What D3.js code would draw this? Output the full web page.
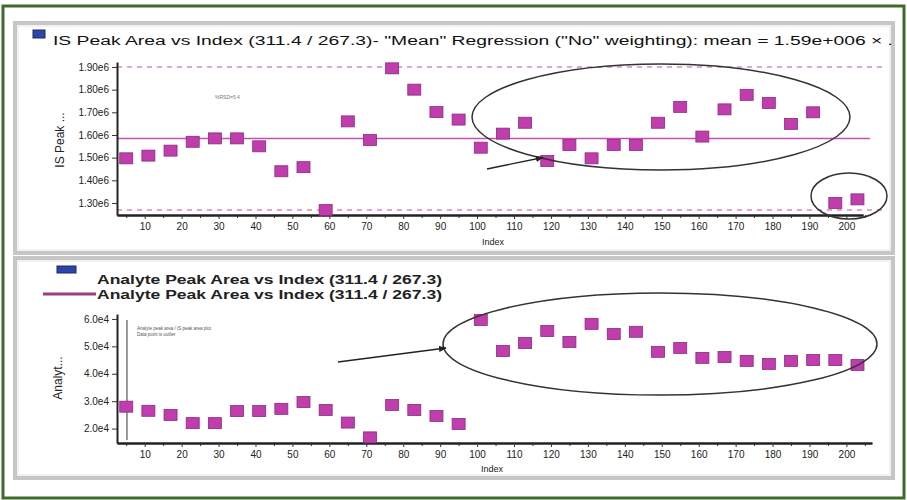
<!DOCTYPE html>
<html>
<head>
<meta charset="utf-8">
<script src="https://cdn.jsdelivr.net/npm/d3@7/dist/d3.min.js"></script>
<style>
  html, body { margin: 0; padding: 0; background: #fff; }
  svg { display: block; font-family: "Liberation Sans", Arial, sans-serif; }
</style>
</head>
<body>
<svg id="chart" width="907" height="500"></svg>
<script>
// ---- data ----
const injectionIndex = [5,11,17,23,29,35,41,47,53,59,65,71,77,83,89,95,101,107,113,119,125,131,137,143,149,155,161,167,173,179,185,191,197,203];
const isPeakArea = [1497000,1509000,1531000,1570000,1585000,1585000,1550000,1440000,1458000,1269000,1660000,1578000,1894000,1800000,1701000,1668000,1544000,1606000,1654000,1485000,1556000,1497000,1556000,1556000,1654000,1724000,1593000,1713000,1777000,1741000,1649000,1700000,1300000,1316000];
const analytePeakArea = [28000,26500,25000,22000,22000,26400,26400,27200,29700,26800,22200,16800,28600,26800,24600,21700,59600,48300,51200,55600,51600,58200,54500,55300,48000,49400,45800,46100,44700,43600,44700,45000,45000,43200];
const isMean = 1585000;
const isUpperLimit = 1900000;
const isLowerLimit = 1269000;
const xTickValues = [10,20,30,40,50,60,70,80,90,100,110,120,130,140,150,160,170,180,190,200];
const topYTicks = [1300000,1400000,1500000,1600000,1700000,1800000,1900000];
const bottomYTicks = [20000,30000,40000,50000,60000];
const topTitle = 'IS Peak Area vs Index (311.4 / 267.3)- "Mean" Regression ("No" weighting): mean = 1.59e+006 × .';
const legendText = 'Analyte Peak Area vs Index (311.4 / 267.3)';

const svg = d3.select('#chart');
const markerFill = '#c03dae', markerStroke = '#8c2a7f';

// outer green frame
svg.append('rect').attr('x', 3).attr('y', 6).attr('width', 901).attr('height', 492)
  .attr('fill', '#fff').attr('stroke', '#3f6a2a').attr('stroke-width', 3);

// panels
function panel(x, y, w, h) {
  svg.append('rect').attr('x', x).attr('y', y).attr('width', w).attr('height', h)
    .attr('fill', '#fff').attr('stroke', '#c6c6c6').attr('stroke-width', 4);
  svg.append('rect').attr('x', x + 3).attr('y', y + 3).attr('width', w - 6).attr('height', h - 6)
    .attr('fill', 'none').attr('stroke', '#e4e4e4').attr('stroke-width', 1);
}
panel(15, 23, 878, 230);
panel(15, 258, 878, 220);

// ---- top chart ----
const xTop = d3.scaleLinear().domain([2.5, 204.5]).range([117, 863]);
const yTop = d3.scaleLinear().domain([1247000, 1922000]).range([215, 62]);

svg.append('rect').attr('x', 33).attr('y', 30).attr('width', 12).attr('height', 8)
  .attr('fill', '#2b45a8').attr('stroke', '#1a2a6a').attr('stroke-width', 1);
svg.append('text').attr('x', 53).attr('y', 45).attr('font-size', 12).attr('fill', '#111')
  .attr('textLength', 840).attr('lengthAdjust', 'spacingAndGlyphs').text(topTitle);

// reference lines
const gTop = svg.append('g');
gTop.append('line').attr('x1', 117).attr('x2', 882).attr('y1', yTop(isUpperLimit)).attr('y2', yTop(isUpperLimit))
  .attr('stroke', '#d68ac8').attr('stroke-width', 1.5).attr('stroke-dasharray', '5,5');
gTop.append('line').attr('x1', 117).attr('x2', 882).attr('y1', yTop(isLowerLimit)).attr('y2', yTop(isLowerLimit))
  .attr('stroke', '#d68ac8').attr('stroke-width', 1.5).attr('stroke-dasharray', '5,5');
gTop.append('line').attr('x1', 117).attr('x2', 870).attr('y1', yTop(isMean)).attr('y2', yTop(isMean))
  .attr('stroke', '#c24fb2').attr('stroke-width', 1.5);

// axes
function styleAxis(g) {
  g.selectAll('.domain').attr('stroke', '#222').attr('stroke-width', 2);
  g.selectAll('.tick line').attr('stroke', '#333');
  g.selectAll('.tick text').attr('font-size', 10).attr('fill', '#222').attr('font-family', '"Liberation Sans", Arial, sans-serif');
}
const axTopY = svg.append('g').attr('transform', 'translate(117,0)')
  .call(d3.axisLeft(yTop).tickValues(topYTicks).tickSize(5).tickPadding(3).tickSizeOuter(0)
    .tickFormat(d => (d / 1e6).toFixed(2) + 'e6'));
styleAxis(axTopY);
const minorTicks = xTickValues.map(v => v - 5).concat([205]);
const axTopXMinor = svg.append('g').attr('transform', 'translate(0,215)')
  .call(d3.axisBottom(xTop).tickValues(minorTicks).tickSize(3).tickFormat('').tickSizeOuter(0));
styleAxis(axTopXMinor);
const axTopX = svg.append('g').attr('transform', 'translate(0,215)')
  .call(d3.axisBottom(xTop).tickValues(xTickValues).tickSize(4).tickPadding(4).tickSizeOuter(0));
styleAxis(axTopX);
svg.append('text').attr('x', 493).attr('y', 245).attr('font-size', 9).attr('text-anchor', 'middle').attr('fill', '#222').text('Index');
svg.append('text').attr('transform', 'translate(64,140) rotate(-90)').attr('font-size', 12)
  .attr('text-anchor', 'middle').attr('fill', '#222').text('IS Peak ...');
svg.append('text').attr('x', 215).attr('y', 99).attr('font-size', 5).attr('fill', '#777').text('%RSD=5.4');

svg.append('g').selectAll('rect').data(injectionIndex).join('rect')
  .attr('x', (d) => xTop(d) - 6.5).attr('y', (d, i) => yTop(isPeakArea[i]) - 5.5)
  .attr('width', 13).attr('height', 11)
  .attr('fill', markerFill).attr('stroke', markerStroke).attr('stroke-width', 0.8);

// annotations top
svg.append('defs').append('marker').attr('id', 'arrow').attr('viewBox', '0 0 10 10')
  .attr('refX', 9).attr('refY', 5).attr('markerWidth', 6).attr('markerHeight', 6).attr('orient', 'auto')
  .append('path').attr('d', 'M0,1 L10,5 L0,9 Z').attr('fill', '#222');
svg.append('ellipse').attr('cx', 661).attr('cy', 117).attr('rx', 189).attr('ry', 53)
  .attr('fill', 'none').attr('stroke', '#333').attr('stroke-width', 1.5);
svg.append('ellipse').attr('cx', 849).attr('cy', 196).attr('rx', 38).attr('ry', 23)
  .attr('fill', 'none').attr('stroke', '#333').attr('stroke-width', 1.5);
svg.append('line').attr('x1', 487).attr('y1', 169).attr('x2', 543).attr('y2', 157.5)
  .attr('stroke', '#222').attr('stroke-width', 1.3).attr('marker-end', 'url(#arrow)');

// ---- bottom chart ----
const xBot = d3.scaleLinear().domain([2.5, 206.9]).range([117, 871.9]);
const yBot = d3.scaleLinear().domain([14750, 61800]).range([443, 314]);

svg.append('rect').attr('x', 57).attr('y', 266).attr('width', 19).attr('height', 7)
  .attr('fill', '#2b45a8').attr('stroke', '#1a2a6a').attr('stroke-width', 1);
svg.append('text').attr('x', 97).attr('y', 284).attr('font-size', 13).attr('font-weight', 'bold').attr('fill', '#222')
  .attr('textLength', 345).attr('lengthAdjust', 'spacingAndGlyphs').text(legendText);
svg.append('line').attr('x1', 43).attr('x2', 96).attr('y1', 294).attr('y2', 294)
  .attr('stroke', '#9a3f86').attr('stroke-width', 3);
svg.append('text').attr('x', 97).attr('y', 299).attr('font-size', 13).attr('font-weight', 'bold').attr('fill', '#222')
  .attr('textLength', 345).attr('lengthAdjust', 'spacingAndGlyphs').text(legendText);

const axBotY = svg.append('g').attr('transform', 'translate(117,0)')
  .call(d3.axisLeft(yBot).tickValues(bottomYTicks).tickSize(5).tickPadding(3).tickSizeOuter(0)
    .tickFormat(d => (d / 1e4).toFixed(1) + 'e4'));
styleAxis(axBotY);
const axBotXMinor = svg.append('g').attr('transform', 'translate(0,443)')
  .call(d3.axisBottom(xBot).tickValues(minorTicks).tickSize(3).tickFormat('').tickSizeOuter(0));
styleAxis(axBotXMinor);
const axBotX = svg.append('g').attr('transform', 'translate(0,443)')
  .call(d3.axisBottom(xBot).tickValues(xTickValues).tickSize(4).tickPadding(4).tickSizeOuter(0));
styleAxis(axBotX);
svg.append('text').attr('x', 492).attr('y', 472).attr('font-size', 9).attr('text-anchor', 'middle').attr('fill', '#222').text('Index');
svg.append('text').attr('transform', 'translate(62,378) rotate(-90)').attr('font-size', 12)
  .attr('text-anchor', 'middle').attr('fill', '#222').text('Analyt...');

// vertical marker line
svg.append('line').attr('x1', xBot(5.2)).attr('x2', xBot(5.2)).attr('y1', 320).attr('y2', 440)
  .attr('stroke', '#333').attr('stroke-width', 1);
svg.append('text').attr('x', 137).attr('y', 330).attr('font-size', 4.5).attr('fill', '#555').text('Analyte peak area / IS peak area plot');
svg.append('text').attr('x', 137).attr('y', 336).attr('font-size', 4.5).attr('fill', '#555').text('Data point is outlier');

svg.append('g').selectAll('rect').data(injectionIndex).join('rect')
  .attr('x', (d) => xBot(d) - 6.5).attr('y', (d, i) => yBot(analytePeakArea[i]) - 5.5)
  .attr('width', 13).attr('height', 11)
  .attr('fill', markerFill).attr('stroke', markerStroke).attr('stroke-width', 0.8);

svg.append('ellipse').attr('cx', 660).attr('cy', 344).attr('rx', 217).attr('ry', 51)
  .attr('fill', 'none').attr('stroke', '#333').attr('stroke-width', 1.5);
svg.append('line').attr('x1', 338).attr('y1', 362).attr('x2', 446).attr('y2', 348)
  .attr('stroke', '#222').attr('stroke-width', 1.3).attr('marker-end', 'url(#arrow)');
</script>
</body>
</html>
